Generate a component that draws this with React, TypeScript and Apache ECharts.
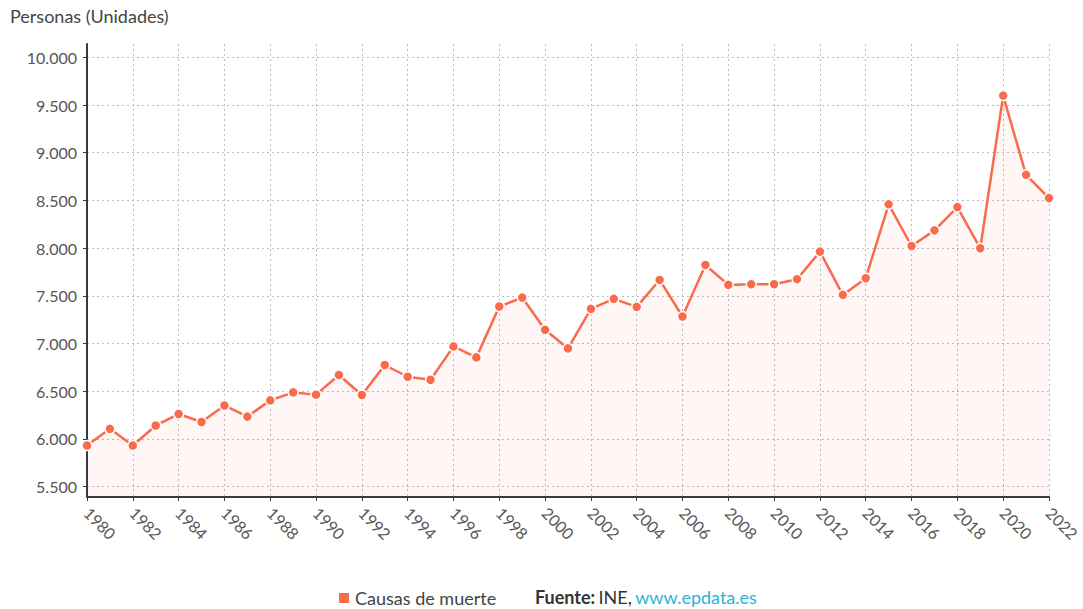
import React, { useEffect, useRef } from "react";
import * as echarts from "echarts";

const years: string[] = [
  "1980","1981","1982","1983","1984","1985","1986","1987","1988","1989",
  "1990","1991","1992","1993","1994","1995","1996","1997","1998","1999",
  "2000","2001","2002","2003","2004","2005","2006","2007","2008","2009",
  "2010","2011","2012","2013","2014","2015","2016","2017","2018","2019",
  "2020","2021","2022",
];

const causasDeMuerte: number[] = [
  5930, 6105, 5930, 6140, 6260, 6177, 6350, 6233, 6403, 6487,
  6463, 6669, 6460, 6774, 6651, 6620, 6969, 6854, 7387, 7481,
  7143, 6948, 7363, 7468, 7384, 7666, 7283, 7823, 7614, 7621,
  7621, 7674, 7963, 7509, 7684, 8459, 8022, 8186, 8430, 7998,
  9599, 8768, 8524,
];

const yTicks: number[] = [5500, 6000, 6500, 7000, 7500, 8000, 8500, 9000, 9500, 10000];

const fmt = (v: number) => String(Math.round(v)).replace(/\B(?=(\d{3})+(?!\d))/g, ".");

export default function App() {
  const ref = useRef<HTMLDivElement>(null);
  useEffect(() => {
    if (!ref.current) return;
    const chart = echarts.init(ref.current, undefined, { renderer: "svg" });
    const font = "Lato, 'Noto Sans', sans-serif";
    chart.setOption({
      animation: false,
      backgroundColor: "#ffffff",
      textStyle: { fontFamily: font },
      grid: { left: 87, right: 34, top: 44, bottom: 112, containLabel: false },
      title: {
        text: "Personas (Unidades)",
        left: 10,
        top: 7,
        padding: 0,
        textStyle: { fontFamily: font, fontSize: 18, fontWeight: "normal", color: "#444" },
      },
      legend: {
        left: 337,
        top: 588,
        padding: 0,
        icon: "rect",
        itemWidth: 12,
        itemHeight: 12,
        itemGap: 6,
        textStyle: { fontFamily: font, fontSize: 18, lineHeight: 20, color: "#444" },
        data: ["Causas de muerte"],
      },
      graphic: [
        {
          type: "text",
          left: 535,
          top: 588,
          style: {
            text: "{b|Fuente:} {n|INE,} {l|www.epdata.es}",
            rich: {
              b: { fontFamily: font, fontSize: 18, fontWeight: "bold", fill: "#333" },
              n: { fontFamily: font, fontSize: 18, fill: "#333" },
              l: { fontFamily: font, fontSize: 18, fill: "#2ab4d6" },
            },
          },
        },
      ],
      xAxis: {
        type: "category",
        data: years,
        boundaryGap: false,
        axisLine: { show: true, lineStyle: { color: "#3a3a3a", width: 2 } },
        axisTick: { show: true, interval: 1, length: 4, lineStyle: { color: "#3a3a3a" } },
        axisLabel: {
          interval: 1,
          rotate: -45,
          fontSize: 16,
          color: "#555",
          fontFamily: font,
          margin: 13,
        },
        splitLine: {
          show: true,
          interval: 1,
          lineStyle: { type: [2, 3], color: "#bbbbbb", width: 1 },
        },
      },
      yAxis: {
        type: "value",
        min: 5390,
        max: 10140,
        axisLine: { show: true, lineStyle: { color: "#3a3a3a", width: 2 } },
        axisTick: { show: true, length: 4, customValues: yTicks, lineStyle: { color: "#3a3a3a" } },
        axisLabel: {
          customValues: yTicks,
          fontSize: 16,
          color: "#555",
          fontFamily: font,
          margin: 10,
          formatter: (v: number) => fmt(v),
        },
        splitLine: {
          show: true,
          lineStyle: { type: [2, 3], color: "#bbbbbb", width: 1 },
        },
      },
      series: [
        {
          name: "Causas de muerte",
          type: "line",
          data: causasDeMuerte,
          symbol: "circle",
          symbolSize: 10,
          showAllSymbol: true,
          itemStyle: { color: "#fa6a4c", borderColor: "#ffffff", borderWidth: 1.5 },
          lineStyle: { color: "#fa6a4c", width: 2.5 },
          areaStyle: { color: "rgba(250,106,76,0.08)", origin: "start" },
        },
      ],
    });
    return () => chart.dispose();
  }, []);
  return (
    <div
      ref={ref}
      style={{ position: "fixed", left: 0, top: 0, width: 1083, height: 609 }}
    />
  );
}
